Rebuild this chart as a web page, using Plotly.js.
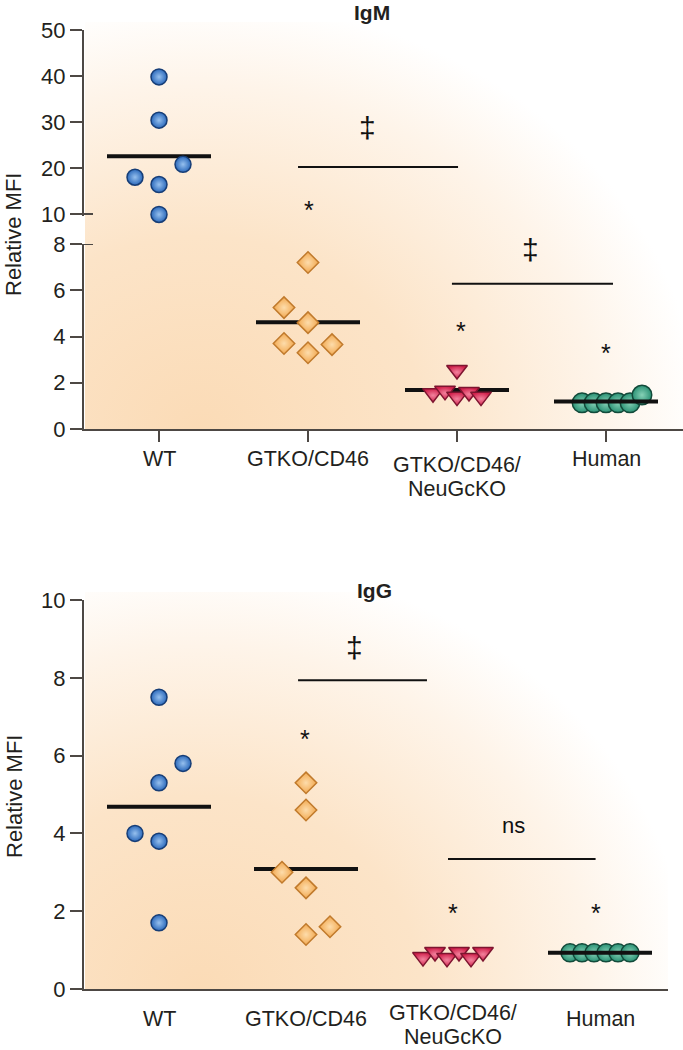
<!DOCTYPE html>
<html>
<head>
<meta charset="utf-8">
<script src="https://cdn.plot.ly/plotly-3.0.1.min.js"></script>
<style>html,body{margin:0;padding:0;background:#fff;}#chart{width:683px;height:1050px;}</style>
</head>
<body>
<div id="chart"></div>
<script>
// ---------------- data ----------------
const categories = ['WT', 'GTKO/CD46', 'GTKO/CD46/<br>NeuGcKO', 'Human'];

const igmWT     = [39.8, 30.4, 20.8, 18.0, 16.4, 9.9];
const igmGTKO   = [7.2, 5.25, 4.6, 3.7, 3.3, 3.65];
const igmNeuGc  = [2.55, 1.55, 1.65, 1.4, 1.6, 1.4];
const igmHuman  = [1.13, 1.13, 1.13, 1.13, 1.13, 1.47];

const iggWT     = [7.5, 5.8, 5.3, 4.0, 3.8, 1.7];
const iggGTKO   = [5.3, 4.6, 3.0, 2.6, 1.6, 1.4];
const iggNeuGc  = [0.82, 0.95, 0.8, 0.95, 0.8, 0.95];
const iggHuman  = [0.93, 0.93, 0.93, 0.93, 0.93, 0.93];

const igmUpperTicks = [10, 20, 30, 40, 50];
const igmLowerTicks = [0, 2, 4, 6, 8];
const iggTicks      = [0, 2, 4, 6, 8, 10];

const panelTitles = ['IgM', 'IgG'];
const yTitle = 'Relative MFI';

// ---------------- presentation ----------------
const FONT = 'Liberation Sans, Arial, Helvetica, sans-serif';
const INK = '#231f20';
const AXIS = '#4d4844';
const W = 683, H = 1050;
const px = v => v / W;
const py = v => 1 - v / H;

// horizontal spreading of overlapping points (in 12px slots)
const slotsIgM = [[0,0,2,-2,0,0],[0,-2,0,-2,0,2],[0,-2,-1,0,1,2],[-2,-1,0,1,2,3]];
const slotsIgG = [[0,2,0,-2,0,0],[0,0,-2,0,2,0],[-2.5,-1.5,-0.5,0.5,1.5,2.5],[-2.5,-1.5,-0.5,0.5,1.5,2.5]];

const styles = [
  {symbol:'circle',        size:16,   color:'#2b69bb', center:'#96c0ee', line:'#163d76', meanOnTop:false},
  {symbol:'diamond',       size:16.5, color:'#f2a84f', center:'#fddcab', line:'#c07a2c', meanOnTop:false},
  {symbol:'triangle-down', size:18,   color:'#d01f4a', center:'#f2829d', line:'#7d1530', meanOnTop:false},
  {symbol:'circle',        size:19.5, color:'#2a9174', center:'#86d1b6', line:'#124a3a', meanOnTop:true}
];
const showMeanIgM = [true, true, true, true];
const showMeanIgG = [true, true, false, true];

const topGeo = {left:84, right:683, x0:159, step:149};
const botGeo = {left:84, right:668, x0:159, step:147};

function addGroup(traces, vals, gi, slots, xa, pickY, st, size, showMean, step) {
  const unit = 12 / step;
  const half = 52 / step;
  const xs = vals.map((v, i) => gi + slots[i] * unit);
  const mean = vals.reduce((a, b) => a + b, 0) / vals.length;
  const meanTrace = {type:'scatter', mode:'lines', x:[gi - half, gi + half], y:[mean, mean],
    xaxis:xa, yaxis:pickY(mean), line:{color:'#111111', width:4}, hoverinfo:'skip',
    showlegend:false, cliponaxis:false};
  const byAxis = {};
  vals.forEach((v, i) => {
    const ya = pickY(v);
    byAxis[ya] = byAxis[ya] || {x:[], y:[]};
    byAxis[ya].x.push(xs[i]); byAxis[ya].y.push(v);
  });
  if (showMean && !st.meanOnTop) traces.push(meanTrace);
  Object.keys(byAxis).forEach(ya => {
    traces.push({type:'scatter', mode:'markers', x:byAxis[ya].x, y:byAxis[ya].y,
      xaxis:xa, yaxis:ya, cliponaxis:false, showlegend:false, hoverinfo:'y',
      marker:{symbol:st.symbol, size:size, color:st.color,
        gradient:{type:'radial', color:st.center}, line:{color:st.line, width:1.5}}});
  });
  if (showMean && st.meanOnTop) traces.push(meanTrace);
}

const traces = [];
const igmGroups = [igmWT, igmGTKO, igmNeuGc, igmHuman];
const iggGroups = [iggWT, iggGTKO, iggNeuGc, iggHuman];
const pickIgM = v => (v > 8 ? 'y' : 'y2');
const pickIgG = v => 'y3';
igmGroups.forEach((g, i) => addGroup(traces, g, i, slotsIgM[i], 'x', pickIgM, styles[i], styles[i].size, showMeanIgM[i], topGeo.step));
iggGroups.forEach((g, i) => addGroup(traces, g, i, slotsIgG[i], 'x2', pickIgG, styles[i], i === 3 ? 18 : styles[i].size, showMeanIgG[i], botGeo.step));

// ---------------- background gradient ----------------
function bgImage() {
  const c = document.createElement('canvas');
  c.width = W; c.height = H;
  const g = c.getContext('2d');
  g.fillStyle = '#ffffff'; g.fillRect(0, 0, W, H);
  function blob(r, cx, cy, rx, ry) {
    g.save();
    g.beginPath(); g.rect(r[0], r[1], r[2] - r[0], r[3] - r[1]); g.clip();
    g.translate(cx, cy); g.scale(rx / ry, 1);
    const gr = g.createRadialGradient(0, 0, 0, 0, 0, ry);
    gr.addColorStop(0, 'rgb(251,219,182)');
    gr.addColorStop(0.45, 'rgb(252,228,200)');
    gr.addColorStop(0.8, 'rgb(254,244,233)');
    gr.addColorStop(1, 'rgb(255,255,255)');
    g.fillStyle = gr; g.fillRect(-3000, -3000, 6000, 6000);
    g.restore();
  }
  blob([85, 22, 683, 429], 200, 430, 500, 430);
  blob([85, 592, 668, 989], 200, 990, 490, 430);
  return c.toDataURL('image/png');
}

// ---------------- axes ----------------
const yBase = {ticks:'outside', ticklen:12, tickwidth:2, tickcolor:AXIS, showline:true,
  linecolor:AXIS, linewidth:2, showgrid:false, zeroline:false, fixedrange:true,
  tickfont:{family:FONT, size:22, color:INK}};
const xBase = {tickvals:[0,1,2,3], showticklabels:false, showline:true, linecolor:AXIS,
  linewidth:2, showgrid:false, zeroline:false, fixedrange:true, tickcolor:AXIS, tickwidth:2};

// upper IgM segment: 10..50 spans 214px..30px; extend slightly below 10 so the lowest WT point is kept
const upperPxPerUnit = (214 - 30) / 40;
const upperMin = 9.5;

const layout = {
  width:W, height:H, margin:{l:0, r:0, t:0, b:0},
  paper_bgcolor:'#ffffff', plot_bgcolor:'rgba(0,0,0,0)', showlegend:false,
  font:{family:FONT, size:22, color:INK},
  xaxis: Object.assign({}, xBase, {domain:[px(topGeo.left), px(topGeo.right)], anchor:'y2',
    range:[(topGeo.left - topGeo.x0) / topGeo.step, (topGeo.right - topGeo.x0) / topGeo.step],
    ticks:'outside', ticklen:11}),
  yaxis: Object.assign({}, yBase, {domain:[py(214 + (10 - upperMin) * upperPxPerUnit), py(30)],
    range:[upperMin, 50], anchor:'x', tickvals:igmUpperTicks}),
  yaxis2: Object.assign({}, yBase, {domain:[py(429), py(244)], range:[0, 8], anchor:'x', tickvals:igmLowerTicks}),
  xaxis2: Object.assign({}, xBase, {domain:[px(botGeo.left), px(botGeo.right)], anchor:'y3',
    range:[(botGeo.left - botGeo.x0) / botGeo.step, (botGeo.right - botGeo.x0) / botGeo.step],
    ticks:''}),
  yaxis3: Object.assign({}, yBase, {domain:[py(989), py(600)], range:[0, 10], anchor:'x2', tickvals:iggTicks}),
  images:[{source:bgImage(), xref:'paper', yref:'paper', x:0, y:1, sizex:1, sizey:1,
    xanchor:'left', yanchor:'top', sizing:'stretch', layer:'below'}],
  shapes:[], annotations:[]
};

// axis break marks
layout.shapes.push({type:'line', xref:'paper', yref:'y', x0:px(84), x1:px(93), y0:10, y1:10, line:{color:AXIS, width:2}});
layout.shapes.push({type:'line', xref:'paper', yref:'y2', x0:px(84), x1:px(93), y0:8, y1:8, line:{color:AXIS, width:2}});

// significance bars
const sigBars = [
  {xref:'x', yref:'y', x0:0.933, x1:2.007, y:20.2},
  {xref:'x', yref:'y2', x0:1.966, x1:3.047, y:6.28},
  {xref:'x2', yref:'y3', x0:0.946, x1:1.823, y:7.94},
  {xref:'x2', yref:'y3', x0:1.966, x1:2.97, y:3.34}
];
sigBars.forEach(b => layout.shapes.push({type:'line', xref:b.xref, yref:b.yref, x0:b.x0, x1:b.x1, y0:b.y, y1:b.y, line:{color:'#111111', width:2}}));

const sigMarks = [
  {text:'‡', xref:'x', yref:'y', x:1.40, y:28.7, size:30, shift:0},
  {text:'‡', xref:'x', yref:'y2', x:2.49, y:7.75, size:30, shift:0},
  {text:'*', xref:'x', yref:'y', x:1.01, y:12.2, size:25, shift:-6},
  {text:'*', xref:'x', yref:'y2', x:2.03, y:4.5, size:25, shift:-6},
  {text:'*', xref:'x', yref:'y2', x:3.0, y:3.55, size:25, shift:-6},
  {text:'‡', xref:'x2', yref:'y3', x:1.327, y:8.79, size:30, shift:0},
  {text:'ns', xref:'x2', yref:'y3', x:2.41, y:4.16, size:22, shift:2},
  {text:'*', xref:'x2', yref:'y3', x:0.993, y:6.58, size:25, shift:-6},
  {text:'*', xref:'x2', yref:'y3', x:2.0, y:2.1, size:25, shift:-6},
  {text:'*', xref:'x2', yref:'y3', x:2.97, y:2.1, size:25, shift:-6}
];
sigMarks.forEach(m => layout.annotations.push({text:m.text, xref:m.xref, yref:m.yref, x:m.x, y:m.y,
  yshift:m.shift, showarrow:false, xanchor:'center', yanchor:'middle', borderpad:0,
  font:{family:FONT, size:m.size, color:'#111111'}}));

// panel titles
layout.annotations.push({text:'<b>' + panelTitles[0] + '</b>', xref:'paper', yref:'paper', x:px(372), y:py(12), showarrow:false, xanchor:'center', yanchor:'middle', borderpad:0, font:{family:FONT, size:21, color:INK}});
layout.annotations.push({text:'<b>' + panelTitles[1] + '</b>', xref:'paper', yref:'paper', x:px(374), y:py(590), showarrow:false, xanchor:'center', yanchor:'middle', borderpad:0, font:{family:FONT, size:21, color:INK}});

// y titles
[235, 797].forEach(c => layout.annotations.push({text:yTitle, xref:'paper', yref:'paper', x:px(14), y:py(c), textangle:-90, showarrow:false, xanchor:'center', yanchor:'middle', borderpad:0, font:{family:FONT, size:22, color:INK}}));

// category labels (two-line label drawn line by line)
function catLabels(xref, singleY, firstY, pitch) {
  categories.forEach((c, i) => {
    const lines = c.split('<br>');
    lines.forEach((ln, k) => {
      const y = lines.length === 1 ? singleY : firstY + k * pitch;
      layout.annotations.push({text:ln, xref:xref, yref:'paper', x:i, y:py(y), showarrow:false,
        xanchor:'center', yanchor:'middle', borderpad:0, font:{family:FONT, size:21.5, color:INK}});
    });
  });
}
catLabels('x', 459, 465, 24);
catLabels('x2', 1019, 1013, 24);

Plotly.newPlot('chart', traces, layout, {displayModeBar:false, staticPlot:true});
</script>
</body>
</html>
